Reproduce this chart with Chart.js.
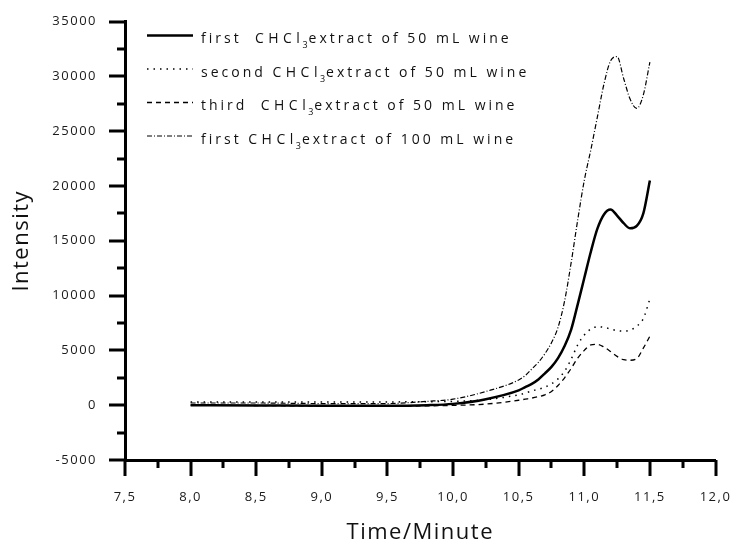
<!DOCTYPE html>
<html>
<head>
<meta charset="utf-8">
<title>Intensity vs time</title>
<script src="https://cdn.jsdelivr.net/npm/chart.js@4.4.1/dist/chart.umd.min.js"></script>
<style>
  html, body { margin: 0; padding: 0; background: #fff; }
</style>
</head>
<body>
<canvas id="intensityChart" width="733" height="542"></canvas>
<script>
// Retention time (minutes), shared by all four traces
const times = [8.0, 8.5, 9.0, 9.5, 9.8, 10.0, 10.25, 10.5, 10.55, 10.6, 10.65, 10.7, 10.75, 10.8,
               10.85, 10.9, 10.95, 11.0, 11.05, 11.1, 11.15, 11.2, 11.25, 11.3, 11.35, 11.4, 11.45, 11.5];

// Intensities
const first50 = [0, -20, -60, -60, 0, 120, 550, 1350, 1650, 1950, 2350, 2900, 3500, 4300,
                 5400, 6900, 9200, 11600, 14000, 16100, 17400, 17850, 17300, 16600, 16130, 16350, 17500, 20500];
const second50 = [300, 300, 300, 300, 320, 350, 500, 950, 1100, 1300, 1450, 1650, 1950, 2400,
                  3100, 4200, 5500, 6400, 6950, 7150, 7100, 6950, 6800, 6750, 6850, 7200, 7900, 9700];
const third50 = [0, -30, -80, -100, -60, -20, 100, 450, 550, 650, 780, 950, 1250, 1800,
                 2500, 3350, 4300, 5000, 5500, 5550, 5300, 4900, 4450, 4150, 4100, 4250, 5200, 6300];
const first100 = [200, 200, 150, 150, 350, 550, 1250, 2300, 2700, 3300, 3900, 4700, 5700, 7100,
                  9500, 13000, 16900, 20500, 23300, 26300, 29300, 31400, 31800, 29800, 27900, 27070, 28300, 31300];

// Tick values
const xTickValues = [7.5, 8.0, 8.5, 9.0, 9.5, 10.0, 10.5, 11.0, 11.5, 12.0];
const yTickValues = [-5000, 0, 5000, 10000, 15000, 20000, 25000, 30000, 35000];

// Legend text, split round the CHCl3 formula
const legendLead = ['first  ', 'second ', 'third  ', 'first '];
const legendTail = ['extract of 50 mL wine', 'extract of 50 mL wine', 'extract of 50 mL wine', 'extract of 100 mL wine'];

const toPoints = (ys) => times.map((t, i) => ({ x: t, y: ys[i] }));

// no automatic label padding, the plot box comes from layout.padding only
const noScalePadding = (s) => {
    s.paddingTop = 0;
    s.paddingBottom = 0;
    s.paddingLeft = 0;
    s.paddingRight = 0;
};

// Letter spacing for all text that Chart.js draws
const spacedText = {
    id: 'spacedText',
    beforeDraw(chart) {
        chart.ctx.letterSpacing = '1.5px';
    }
};

// Major and minor tick marks on both axes
const axisTicks = {
    id: 'axisTicks',
    afterDraw(chart) {
        const { ctx, chartArea, scales: { x, y } } = chart;
        ctx.save();
        ctx.strokeStyle = '#000';
        ctx.lineWidth = 3;
        ctx.beginPath();
        y.ticks.forEach((t, i) => {
            const py = Math.round(y.getPixelForValue(t.value));
            ctx.moveTo(chartArea.left - 16, py);
            ctx.lineTo(chartArea.left, py);
            if (i < y.ticks.length - 1) {
                const pm = Math.round(y.getPixelForValue((t.value + y.ticks[i + 1].value) / 2));
                ctx.moveTo(chartArea.left - 8, pm);
                ctx.lineTo(chartArea.left, pm);
            }
        });
        x.ticks.forEach((t, i) => {
            const px = Math.round(x.getPixelForValue(t.value));
            ctx.moveTo(px, chartArea.bottom);
            ctx.lineTo(px, chartArea.bottom + 16);
            if (i < x.ticks.length - 1) {
                const pm = Math.round(x.getPixelForValue((t.value + x.ticks[i + 1].value) / 2));
                ctx.moveTo(pm, chartArea.bottom);
                ctx.lineTo(pm, chartArea.bottom + 8);
            }
        });
        ctx.stroke();
        ctx.restore();
    }
};

// Legend with subscript in CHCl3
const formulaLegend = {
    id: 'formulaLegend',
    afterDraw(chart) {
        const ctx = chart.ctx;
        chart.data.datasets.forEach((ds, i) => {
            const ly = 35.5 + i * 33.5;
            ctx.save();
            ctx.strokeStyle = '#000';
            ctx.lineWidth = ds.borderWidth;
            ctx.setLineDash(ds.borderDash || []);
            ctx.beginPath();
            ctx.moveTo(147, ly);
            ctx.lineTo(193, ly);
            ctx.stroke();
            ctx.setLineDash([]);

            ctx.fillStyle = '#111';
            ctx.textBaseline = 'alphabetic';
            ctx.font = '14px "Open Sans"';
            let tx = 201;
            const base = ly + 7.5;
            ctx.letterSpacing = '3px';
            ctx.fillText(legendLead[i], tx, base);
            tx += ctx.measureText(legendLead[i]).width;
            ctx.letterSpacing = '4.5px';
            ctx.fillText('CHCl', tx, base);
            tx += ctx.measureText('CHCl').width - 2;
            ctx.font = '9px "Open Sans"';
            ctx.letterSpacing = '0px';
            ctx.fillText('3', tx, base + 5);
            tx += ctx.measureText('3').width + 1;
            ctx.font = '14px "Open Sans"';
            ctx.letterSpacing = '3px';
            ctx.fillText(legendTail[i], tx, base);
            ctx.restore();
        });
    }
};

const tickFont = { family: 'Open Sans', size: 13 };
const titleFont = { family: 'Open Sans', size: 22 };

new Chart(document.getElementById('intensityChart'), {
    type: 'line',
    data: {
        datasets: [
            { label: 'first CHCl3 extract of 50 mL wine', data: toPoints(first50),
              borderColor: '#000', borderWidth: 2.5, borderDash: [] },
            { label: 'second CHCl3 extract of 50 mL wine', data: toPoints(second50),
              borderColor: '#000', borderWidth: 1.5, borderDash: [1.5, 5] },
            { label: 'third CHCl3 extract of 50 mL wine', data: toPoints(third50),
              borderColor: '#000', borderWidth: 1.3, borderDash: [5, 4] },
            { label: 'first CHCl3 extract of 100 mL wine', data: toPoints(first100),
              borderColor: '#000', borderWidth: 1.2, borderDash: [5, 2, 1, 2] }
        ]
    },
    options: {
        responsive: false,
        animation: false,
        devicePixelRatio: 1,
        layout: { padding: { top: 21.5, right: 17.5, left: 0, bottom: 0 } },
        elements: {
            point: { radius: 0 },
            line: { cubicInterpolationMode: 'monotone', fill: false }
        },
        plugins: {
            legend: { display: false },
            tooltip: { enabled: false }
        },
        scales: {
            x: {
                type: 'linear',
                min: 7.5,
                max: 12,
                afterFit: (s) => { s.height = 82; noScalePadding(s); },
                afterBuildTicks: (s) => { s.ticks = xTickValues.map(v => ({ value: v })); },
                grid: { display: false, drawTicks: false },
                border: { display: true, color: '#000', width: 3 },
                ticks: {
                    padding: 29, maxRotation: 0, autoSkip: false, color: '#1a1a1a', font: tickFont,
                    callback: (v) => v.toFixed(1).replace('.', ',')
                },
                title: { display: true, text: 'Time/Minute', color: '#111', font: titleFont,
                         padding: { top: 0, bottom: -4 } }
            },
            y: {
                min: -5000,
                max: 35000,
                afterFit: (s) => { s.width = 125; noScalePadding(s); },
                afterBuildTicks: (s) => { s.ticks = yTickValues.map(v => ({ value: v })); },
                grid: { display: false, drawTicks: false },
                border: { display: true, color: '#000', width: 3 },
                ticks: { padding: 28, color: '#1a1a1a', font: tickFont, callback: (v) => String(v) },
                title: { display: true, text: 'Intensity', color: '#111', font: titleFont,
                         padding: { top: 9, bottom: 0 } }
            }
        }
    },
    plugins: [spacedText, axisTicks, formulaLegend]
});
</script>
</body>
</html>
